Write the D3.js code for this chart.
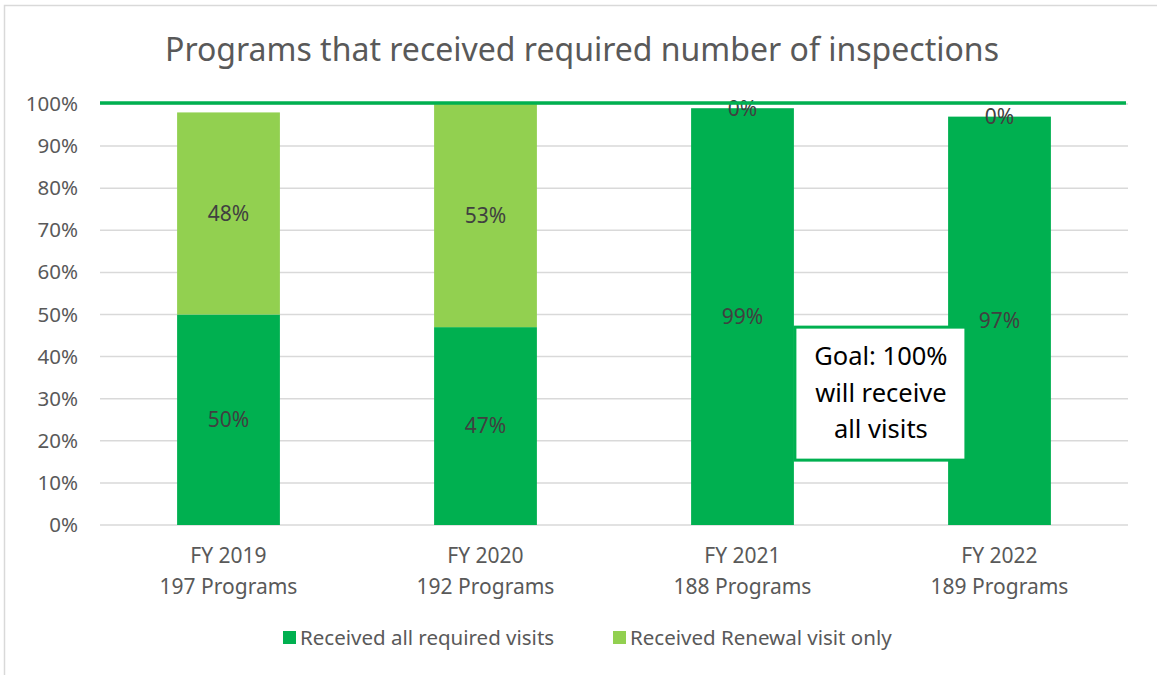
<!DOCTYPE html>
<html>
<head>
<meta charset="utf-8">
<script src="https://cdn.jsdelivr.net/npm/d3@7"></script>
<style>
  body { margin: 0; background: #fff; }
  text { font-family: "Noto Sans", "Open Sans", sans-serif; }
</style>
</head>
<body>
<script>
var years = ["FY 2019", "FY 2020", "FY 2021", "FY 2022"];
var programs = ["197 Programs", "192 Programs", "188 Programs", "189 Programs"];
var allVisits = [50, 47, 99, 97];
var renewalOnly = [48, 53, 0, 0];
var seriesNames = ["Received all required visits", "Received Renewal visit only"];
var seriesColors = ["#00b050", "#92d050"];
var yTicks = [0, 10, 20, 30, 40, 50, 60, 70, 80, 90, 100];
var goalValue = 100;
var goalText = ["Goal: 100%", "will receive", "all visits"];

var w = 1157, h = 675;
var margin = { top: 104, right: 29, bottom: 150, left: 100 },
  width = w - margin.left - margin.right,
  height = h - margin.top - margin.bottom;

var svg = d3.select("body").append("svg")
  .attr("width", w)
  .attr("height", h);

// chart frame
svg.append("rect")
  .attr("x", 4.5).attr("y", 5.5)
  .attr("width", w + 10).attr("height", h + 10)
  .attr("fill", "none")
  .attr("stroke", "#d9d9d9")
  .attr("stroke-width", 1.5);

svg.append("text")
  .attr("x", 582)
  .attr("y", 61)
  .attr("text-anchor", "middle")
  .attr("fill", "#595959")
  .style("font-size", "32px")
  .text("Programs that received required number of inspections");

var g = svg.append("g")
  .attr("transform", "translate(" + margin.left + "," + margin.top + ")");

var x = d3.scaleBand()
  .domain(years)
  .range([0, width])
  .paddingInner(0.6)
  .paddingOuter(0.3);

var y = d3.scaleLinear()
  .domain([0, 100])
  .range([height, 0]);

// gridlines
g.append("g")
  .selectAll("line")
  .data(yTicks)
  .join("line")
  .attr("x1", 0)
  .attr("x2", width)
  .attr("y1", function (d) { return y(d); })
  .attr("y2", function (d) { return y(d); })
  .attr("stroke", "#d9d9d9")
  .attr("stroke-width", 1.5);

var yAxis = d3.axisLeft(y)
  .tickValues(yTicks)
  .tickFormat(function (d) { return d + "%"; })
  .tickSize(0)
  .tickPadding(22);

var yg = g.append("g").call(yAxis);
yg.select(".domain").remove();
yg.selectAll("text")
  .attr("fill", "#595959")
  .style("font-size", "20.5px")
  .style("font-family", "'Noto Sans', sans-serif");

// stacked bars
var rows = years.map(function (yr, i) {
  return { year: yr, all: allVisits[i], renewal: renewalOnly[i] };
});
var stack = d3.stack().keys(["all", "renewal"]);
var stacked = stack(rows);

var layers = g.selectAll("g.layer")
  .data(stacked)
  .join("g")
  .attr("class", "layer")
  .attr("fill", function (d, i) { return seriesColors[i]; });

layers.selectAll("rect")
  .data(function (d) { return d; })
  .join("rect")
  .attr("x", function (d) { return x(d.data.year); })
  .attr("y", function (d) { return y(d[1]); })
  .attr("width", x.bandwidth())
  .attr("height", function (d) { return y(d[0]) - y(d[1]); });

layers.selectAll("text")
  .data(function (d) { return d; })
  .join("text")
  .attr("x", function (d) { return x(d.data.year) + x.bandwidth() / 2; })
  .attr("y", function (d) { return y((d[0] + d[1]) / 2); })
  .attr("dy", "0.35em")
  .attr("text-anchor", "middle")
  .attr("fill", "#404040")
  .style("font-size", "21px")
  .text(function (d) { return (d[1] - d[0]) + "%"; });

// goal line
g.append("line")
  .attr("x1", 0)
  .attr("x2", width - 2)
  .attr("y1", y(goalValue) - 1)
  .attr("y2", y(goalValue) - 1)
  .attr("stroke", "#00b050")
  .attr("stroke-width", 3.5);

// x labels
var xl = g.append("g")
  .selectAll("text")
  .data(years)
  .join("text")
  .attr("x", function (d) { return x(d) + x.bandwidth() / 2; })
  .attr("y", height + 38)
  .attr("text-anchor", "middle")
  .attr("fill", "#595959")
  .style("font-size", "21px");
xl.append("tspan").text(function (d) { return d; });
xl.append("tspan")
  .attr("x", function (d) { return x(d) + x.bandwidth() / 2; })
  .attr("dy", 31)
  .text(function (d, i) { return programs[i]; });

// goal text box
var bx = x("FY 2021") + x.bandwidth() + 1, by = y(47);
var box = g.append("g").attr("transform", "translate(" + bx + "," + by + ")");
box.append("rect")
  .attr("x", 0)
  .attr("y", 0)
  .attr("width", 171)
  .attr("height", 133)
  .attr("fill", "#fff")
  .attr("stroke", "#00b050")
  .attr("stroke-width", 3);
box.selectAll("text")
  .data(goalText)
  .join("text")
  .attr("x", 86)
  .attr("y", function (d, i) { return 38 + i * 36.5; })
  .attr("text-anchor", "middle")
  .attr("fill", "#000")
  .style("font-size", "25.5px")
  .text(function (d) { return d; });

// legend
var legendX = [283, 613];
var legend = svg.append("g")
  .selectAll("g")
  .data(seriesNames)
  .join("g")
  .attr("transform", function (d, i) { return "translate(" + legendX[i] + ",631)"; });
legend.append("rect")
  .attr("width", 13)
  .attr("height", 13)
  .attr("fill", function (d, i) { return seriesColors[i]; });
legend.append("text")
  .attr("x", 17)
  .attr("y", 14)
  .attr("fill", "#595959")
  .style("font-size", "20.5px")
  .text(function (d) { return d; });
</script>
</body>
</html>
